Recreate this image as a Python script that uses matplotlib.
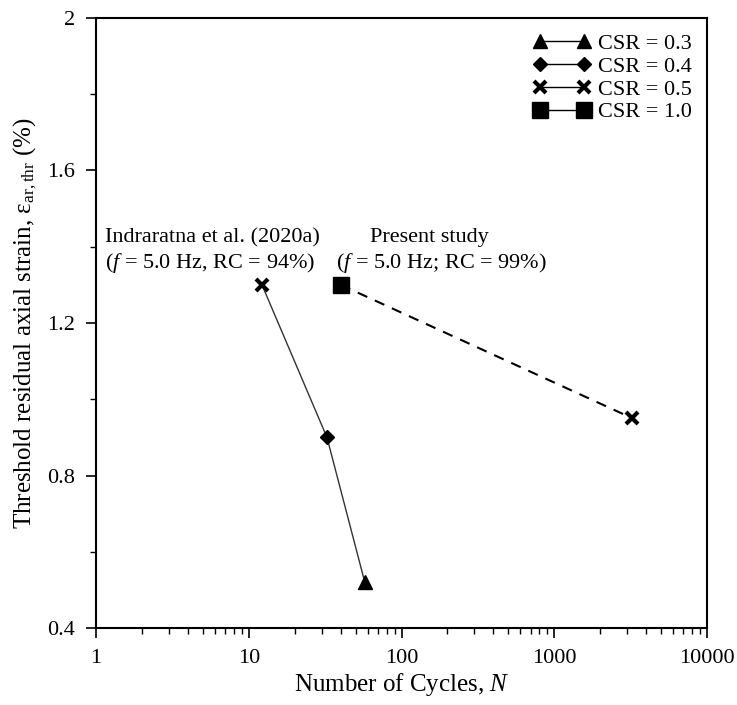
import matplotlib
matplotlib.use("Agg")
import matplotlib.pyplot as plt
from matplotlib.lines import Line2D
from matplotlib.ticker import LogLocator, FixedLocator, NullFormatter

plt.rcParams['font.family'] = ['Liberation Serif', 'DejaVu Serif']
plt.rcParams['mathtext.fontset'] = 'custom'
plt.rcParams['mathtext.rm'] = 'Liberation Serif'
plt.rcParams['mathtext.it'] = 'Liberation Serif:italic'

# Data
indra_N = [57.5, 32.5, 12.2]
indra_eps = [0.52, 0.90, 1.30]
indra_csr = [0.3, 0.4, 0.5]

present_N = [40.0, 3250.0]
present_eps = [1.30, 0.95]
present_csr = [1.0, 0.5]

csr_levels = [0.3, 0.4, 0.5, 1.0]
csr_markers = {0.3: '^', 0.4: 'D', 0.5: 'x', 1.0: 's'}
csr_sizes = {0.3: 10, 0.4: 7.5, 0.5: 9, 1.0: 11}

y_ticks = [0.4, 0.8, 1.2, 1.6, 2.0]
y_ticklabels = ['0.4', '0.8', '1.2', '1.6', '2']
x_ticks = [1, 10, 100, 1000, 10000]
x_ticklabels = ['1', '10', '100', '1000', '10000']

fig = plt.figure(figsize=(7.37, 7.05), dpi=100)
ax = fig.add_axes([0.1303, 0.1092, 0.829, 0.8653])

ax.plot(indra_N, indra_eps, '-', color='#333333', lw=1.0, zorder=2)
ax.plot(present_N, present_eps, '--', color='black', lw=1.5, dashes=(5, 4), zorder=2)

def draw_points(Ns, eps, csrs):
    for n, e, c in zip(Ns, eps, csrs):
        m = csr_markers[c]
        if m == 'x':
            ax.plot([n], [e], marker='x', ms=csr_sizes[c], mew=3, color='black', ls='none', zorder=3)
        else:
            ax.plot([n], [e], marker=m, ms=csr_sizes[c], color='black', ls='none', zorder=3)

draw_points(indra_N, indra_eps, indra_csr)
draw_points(present_N, present_eps, present_csr)

ax.set_xscale('log')
ax.set_xlim(1, 10000)
ax.set_ylim(0.4, 2.0)
ax.set_xticks(x_ticks)
ax.set_xticklabels(x_ticklabels)
ax.xaxis.set_minor_locator(LogLocator(base=10, subs=range(2, 10)))
ax.xaxis.set_minor_formatter(NullFormatter())
ax.set_yticks(y_ticks)
ax.set_yticklabels(y_ticklabels)
ax.yaxis.set_minor_locator(FixedLocator([0.6, 1.0, 1.4, 1.8]))

ax.tick_params(which='major', direction='out', length=7, width=1.2, labelsize=16, pad=8)
ax.tick_params(which='minor', direction='out', length=4, width=1.0)
for s in ax.spines.values():
    s.set_linewidth(1.5)

ax.set_xlabel('Number of Cycles, $\\mathit{N}$', fontsize=18, labelpad=2)
ax.set_ylabel('Threshold residual axial strain, ε$_{\\mathrm{ar,thr}}$ (%)', fontsize=18, labelpad=6)

ax.text(1.15, 1.423, 'Indraratna et al. (2020a)', fontsize=16, ha='left', va='center')
ax.text(1.15, 1.357, '($\\mathit{f}$ = 5.0 Hz, RC = 94%)', fontsize=16, ha='left', va='center')
ax.text(62, 1.423, 'Present study', fontsize=16, ha='left', va='center')
ax.text(37.5, 1.357, '($\\mathit{f}$ = 5.0 Hz; RC = 99%)', fontsize=16, ha='left', va='center')

handles = []
for c in csr_levels:
    m = csr_markers[c]
    kw = dict(mew=3) if m == 'x' else {}
    handles.append(Line2D([0], [0], color='black', lw=1.0, marker=m, ms=csr_sizes[c], **kw))
leg = ax.legend(handles, [f'CSR = {c:.1f}' for c in csr_levels], loc='upper right',
                numpoints=2, fontsize=16, frameon=False,
                handlelength=2.6, handletextpad=0.3, labelspacing=0.1, borderpad=0.2,
                bbox_to_anchor=(1.0, 1.0))

fig.savefig('out.png', dpi=100)
